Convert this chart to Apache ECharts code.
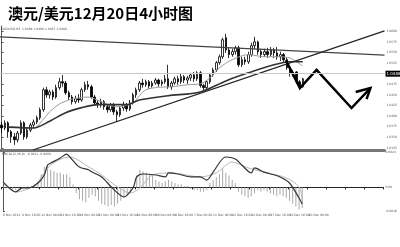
<!DOCTYPE html>
<html>
<head>
<meta charset="utf-8">
<script src="https://cdn.jsdelivr.net/npm/echarts@6/dist/echarts.min.js"></script>
<style>
  html, body { margin: 0; padding: 0; background: #fff; }
  #chart { width: 400px; height: 247px; }
</style>
</head>
<body>
<div id="chart"></div>
<script>
// AUD/USD 4-hour bars
const opens = [1.0379,1.0372,1.0384,1.0363,1.0351,1.0344,1.0360,1.0384,1.0351,1.0367,
  1.0379,1.0386,1.0396,1.0415,1.0462,1.0450,1.0457,1.0445,1.0467,1.0481,
  1.0478,1.0455,1.0445,1.0434,1.0441,1.0438,1.0462,1.0474,1.0469,1.0445,
  1.0431,1.0427,1.0434,1.0422,1.0415,1.0427,1.0410,1.0403,1.0419,1.0427,
  1.0417,1.0431,1.0450,1.0462,1.0478,1.0474,1.0481,1.0471,1.0478,1.0485,
  1.0476,1.0481,1.0488,1.0469,1.0478,1.0488,1.0481,1.0493,1.0485,1.0490,
  1.0497,1.0488,1.0502,1.0472,1.0467,1.0481,1.0497,1.0509,1.0526,1.0540,
  1.0585,1.0556,1.0545,1.0552,1.0561,1.0521,1.0533,1.0528,1.0545,1.0566,
  1.0575,1.0552,1.0545,1.0552,1.0545,1.0556,1.0549,1.0540,1.0545,1.0533,
  1.0514,1.0500,1.0504,1.0481,1.0469];
const closes = [1.0372,1.0384,1.0363,1.0351,1.0344,1.0360,1.0384,1.0351,1.0367,1.0379,
  1.0386,1.0396,1.0415,1.0462,1.0450,1.0457,1.0445,1.0467,1.0481,1.0478,
  1.0455,1.0445,1.0434,1.0441,1.0438,1.0462,1.0474,1.0469,1.0445,1.0431,
  1.0427,1.0434,1.0422,1.0415,1.0427,1.0410,1.0403,1.0419,1.0427,1.0417,
  1.0431,1.0450,1.0462,1.0478,1.0474,1.0481,1.0471,1.0478,1.0485,1.0476,
  1.0481,1.0488,1.0469,1.0478,1.0488,1.0481,1.0493,1.0485,1.0490,1.0497,
  1.0488,1.0502,1.0472,1.0467,1.0481,1.0497,1.0509,1.0526,1.0540,1.0580,
  1.0556,1.0545,1.0552,1.0561,1.0521,1.0533,1.0528,1.0545,1.0566,1.0575,
  1.0552,1.0545,1.0552,1.0545,1.0556,1.0549,1.0540,1.0545,1.0533,1.0514,
  1.0500,1.0504,1.0481,1.0469,1.0488];
const lows = [1.0360,1.0367,1.0349,1.0337,1.0332,1.0338,1.0356,1.0344,1.0346,1.0362,
  1.0372,1.0381,1.0391,1.0410,1.0443,1.0441,1.0438,1.0441,1.0462,1.0469,
  1.0450,1.0438,1.0427,1.0429,1.0431,1.0434,1.0457,1.0462,1.0441,1.0424,
  1.0419,1.0420,1.0415,1.0408,1.0410,1.0403,1.0386,1.0398,1.0412,1.0410,
  1.0412,1.0427,1.0443,1.0457,1.0467,1.0469,1.0464,1.0467,1.0474,1.0469,
  1.0471,1.0476,1.0464,1.0462,1.0474,1.0474,1.0476,1.0478,1.0476,1.0483,
  1.0481,1.0483,1.0467,1.0460,1.0462,1.0476,1.0493,1.0504,1.0521,1.0535,
  1.0549,1.0537,1.0540,1.0545,1.0516,1.0516,1.0521,1.0523,1.0540,1.0559,
  1.0545,1.0537,1.0540,1.0537,1.0540,1.0537,1.0533,1.0530,1.0526,1.0509,
  1.0493,1.0493,1.0476,1.0462,1.0467];
const highs = [1.0386,1.0390,1.0388,1.0367,1.0360,1.0365,1.0390,1.0388,1.0372,1.0384,
  1.0392,1.0401,1.0420,1.0467,1.0469,1.0462,1.0462,1.0474,1.0490,1.0497,
  1.0483,1.0460,1.0450,1.0448,1.0452,1.0467,1.0481,1.0483,1.0474,1.0450,
  1.0438,1.0441,1.0438,1.0427,1.0431,1.0431,1.0415,1.0424,1.0434,1.0431,
  1.0438,1.0455,1.0467,1.0483,1.0488,1.0486,1.0485,1.0483,1.0490,1.0488,
  1.0486,1.0497,1.0521,1.0483,1.0493,1.0495,1.0500,1.0497,1.0495,1.0502,
  1.0504,1.0506,1.0506,1.0476,1.0485,1.0502,1.0514,1.0530,1.0545,1.0585,
  1.0594,1.0561,1.0559,1.0566,1.0566,1.0540,1.0540,1.0552,1.0573,1.0587,
  1.0578,1.0559,1.0559,1.0561,1.0563,1.0561,1.0563,1.0552,1.0549,1.0537,
  1.0519,1.0509,1.0506,1.0485,1.0490];

// Moving averages, [bar, price]
const maFast = [[2,1.0374],[10,1.0372],[13,1.0392],[15,1.0410],[18,1.0428],[21,1.0438],[24,1.0443],
  [27,1.0445],[31,1.0434],[36,1.0422],[41,1.0431],[43,1.0448],[45,1.0462],[49,1.0468],[53,1.0469],
  [58,1.0474],[62,1.0476],[65,1.0490],[68,1.0514],[72,1.0533],[77,1.0545],[82,1.0540],[87,1.0540],
  [90,1.0537],[92,1.0528],[94,1.0518]];
const maSlow = [[2,1.0374],[10,1.0372],[15,1.0388],[20,1.0408],[25,1.0420],[30,1.0427],[39,1.0427],
  [43,1.0438],[52,1.0448],[62,1.0457],[70,1.0483],[77,1.0502],[85,1.0521],[90,1.0528],[94,1.0528]];

// Trend lines and the projected path, [bar, price]
const resistanceLine = [[-0.5,1.0587],[119.5,1.0544]];
const supportLine = [[9.76,1.0320],[119.5,1.0601]];
const projection = [[88.7,1.0532],[93.1,1.0466],[98.3,1.0509],[109.2,1.0419],[115.1,1.0466]];
const arrowHead = [[110.5,1.0457],[115.1,1.0466],[113.9,1.0440]];

// MACD(12,26,9)
const macdHist = [0.0001,0.00005,-0.0001,-0.00015,-0.0002,-0.0001,-0.00005,0.00005,0.0001,0.00012,
  0.0002,0.0004,0.0009,0.0014,0.0015,0.0012,0.0011,0.0010,0.0010,0.0009,0.0009,0.0007,0.0002,
  -0.0004,-0.0008,-0.0009,-0.0010,-0.0007,-0.0005,-0.0006,-0.0009,-0.0011,-0.0012,-0.0013,-0.0012,
  -0.0013,-0.0011,-0.0009,-0.0007,-0.0005,-0.0003,0.0001,
  0.0008,0.0012,0.0011,0.0010,0.0009,0.0008,0.0005,
  0.0004,0.0003,0.0004,0.0005,0.0004,0.0003,0.0002,0.0002,0.0001,0.0001,
  -0.0001,-0.0002,-0.0002,-0.0003,-0.0003,-0.0002,
  0.0003,0.0005,0.0007,0.0009,0.0013,0.0010,0.0008,0.0005,0.0003,
  -0.0003,-0.0005,-0.0006,-0.0007,-0.0006,-0.0004,
  -0.0002,-0.0003,-0.0002,-0.0003,-0.0004,
  -0.0005,-0.0006,-0.0005,-0.0006,-0.0007,
  -0.0009,-0.0011,-0.0013,-0.0015,-0.0014];
const macdMain = [[0,0.00037],[2,-0.00004],[4,-0.00031],[6,-0.00004],[8,-0.00004],[11,0.00030],[13,0.00084],
  [14,0.00152],[15,0.00165],[18,0.00199],[20,0.00226],[21,0.00206],[24,0.00138],[27,0.00118],[28,0.00104],
  [31,0.00071],[34,0.00003],[36,-0.00038],[38,-0.00065],[39,-0.00052],[41,0.00003],[42,0.00071],[44,0.00091],
  [48,0.00084],[51,0.00071],[52,0.00098],[55,0.00091],[59,0.00071],[62,0.00071],[64,0.00050],[66,0.00104],
  [70,0.00206],[73,0.00193],[75,0.00152],[78,0.00098],[79,0.00132],[82,0.00104],[87,0.00071],[90,0.00030],
  [93,-0.00072],[94,-0.00113]];
const macdSignal = [[0,0.00030],[4,-0.00031],[10,0.00016],[15,0.00152],[21,0.00206],[27,0.00138],[31,0.00084],
  [36,0.00003],[40,-0.00038],[43,-0.00004],[47,0.00084],[53,0.00098],[62,0.00071],[67,0.00098],[72,0.00172],
  [77,0.00132],[82,0.00104],[89,0.00064],[93,0.00003],[94,-0.00085]];

// Axis ticks
const priceTicks = [1.0325,1.0350,1.0375,1.0400,1.0425,1.0450,1.0475,1.0500,1.0525,1.0550,1.0575,1.0600];
const macdTicks = [-0.0016,0,0.0024];
const timeLabels = ['6 Nov 2012','8 Nov 16:00','12 Nov 08:00','14 Nov 16:00','19 Nov 00:00','21 Nov 08:00',
  '23 Nov 16:00','28 Nov 00:00','30 Nov 08:00','4 Dec 16:00','7 Dec 00:00','11 Dec 08:00','12 Dec 16:00',
  '14 Dec 08:00','17 Dec 16:00','18 Dec 16:00','20 Dec 00:00'];

const SLOTS = 120;          // bar slots on the time axis, incl. empty space on the right
const LABEL_EVERY = 6;
const slots = Array.from({length: SLOTS}, (_, i) => String(i));
const candles = opens.map((o, i) => [o, closes[i], lows[i], highs[i]]);
const last = opens.length - 1;
const lastClose = closes[last];
const f4 = v => v.toFixed(4);

const tiny = {fontSize: 4, color: '#444', fontFamily: 'DejaVu Sans'};
const micro = {fontSize: 3, color: '#555', fontFamily: 'DejaVu Sans'};

const chart = echarts.init(document.getElementById('chart'), null, {renderer: 'canvas'});
chart.setOption({
  animation: false,
  backgroundColor: '#fff',
  title: [
    {text: '澳元/美元12月20日4小时图', left: 3, top: 1,
     textStyle: {fontSize: 15, fontWeight: 'bold', color: '#000', fontFamily: 'Noto Sans CJK SC'}},
    {text: 'AUDUSD,H4  ' + [opens[last], highs[last], lows[last], closes[last]].map(f4).join(' '),
     left: 2, top: 28, padding: 0, textStyle: Object.assign({fontWeight: 'normal'}, micro)},
    {text: 'MACD(12,26,9)  ' + f4(macdMain[macdMain.length-1][1]) + ' ' + f4(macdSignal[macdSignal.length-1][1]),
     left: 2, top: 153, padding: 0, textStyle: Object.assign({fontWeight: 'normal'}, micro)}
  ],
  grid: [
    {left: 0, right: 14, top: 26, height: 124},
    {left: 0, right: 14, top: 152, height: 59}
  ],
  xAxis: [
    {type: 'category', gridIndex: 0, data: slots, boundaryGap: true,
     axisLine: {lineStyle: {color: '#777', width: 3}}, axisTick: {show: false}, axisLabel: {show: false}},
    {type: 'value', gridIndex: 0, min: -0.5, max: SLOTS - 0.5, show: false},
    {type: 'category', gridIndex: 1, data: slots, boundaryGap: true,
     axisLine: {lineStyle: {color: '#222', width: 1}},
     axisTick: {show: true, interval: LABEL_EVERY - 1, length: 2, lineStyle: {color: '#222'}},
     axisLabel: Object.assign({interval: LABEL_EVERY - 1, margin: 3, align: 'left', hideOverlap: false,
       formatter: (v, idx) => timeLabels[idx / LABEL_EVERY] || ''}, micro)},
    {type: 'value', gridIndex: 1, min: -0.5, max: SLOTS - 0.5, show: false}
  ],
  yAxis: [
    {type: 'value', gridIndex: 0, position: 'right', min: 1.0320, max: 1.06125, scale: true,
     splitLine: {show: false},
     axisLine: {show: true, lineStyle: {color: '#555', width: 1}},
     axisTick: {show: true, length: 2, customValues: priceTicks, lineStyle: {color: '#555'}},
     axisLabel: Object.assign({margin: 2, customValues: priceTicks, formatter: f4, showMinLabel: true, showMaxLabel: true}, micro)},
    {type: 'value', gridIndex: 1, position: 'right', min: -0.0016, max: 0.0024,
     splitLine: {show: false},
     axisLine: {show: true, lineStyle: {color: '#555', width: 1}},
     axisTick: {show: true, length: 2, customValues: macdTicks, lineStyle: {color: '#555'}},
     axisLabel: Object.assign({margin: 2, customValues: macdTicks,
       formatter: v => (Math.abs(v) < 1e-9 ? '0.00' : f4(v))}, micro)}
  ],
  series: [
    {type: 'candlestick', xAxisIndex: 0, yAxisIndex: 0, data: candles, barWidth: 2,
     itemStyle: {color: '#fff', color0: '#000', borderColor: '#000', borderColor0: '#000', borderWidth: 0.8},
     markLine: {silent: true, symbol: 'none', animation: false,
       lineStyle: {color: '#c8c8c8', width: 1, type: 'solid'},
       label: {show: true, position: 'end', distance: 1, formatter: f4(lastClose),
         backgroundColor: '#000', color: '#fff', fontSize: 4, padding: [1, 1], fontFamily: 'DejaVu Sans'},
       data: [{yAxis: lastClose}]}},
    {type: 'line', xAxisIndex: 1, yAxisIndex: 0, data: maFast, showSymbol: false, smooth: 0.3,
     lineStyle: {color: '#9a9a9a', width: 1}},
    {type: 'line', xAxisIndex: 1, yAxisIndex: 0, data: maSlow, showSymbol: false, smooth: 0.3,
     lineStyle: {color: '#333', width: 1.6}},
    {type: 'line', xAxisIndex: 1, yAxisIndex: 0, data: resistanceLine, showSymbol: false,
     lineStyle: {color: '#444', width: 1.3}},
    {type: 'line', xAxisIndex: 1, yAxisIndex: 0, data: supportLine, showSymbol: false,
     lineStyle: {color: '#222', width: 1.3}},
    {type: 'line', xAxisIndex: 1, yAxisIndex: 0, data: projection, showSymbol: false,
     lineStyle: {color: '#000', width: 2.5, join: 'miter'}},
    {type: 'line', xAxisIndex: 1, yAxisIndex: 0, data: arrowHead, showSymbol: false,
     lineStyle: {color: '#000', width: 2.5, join: 'miter'}},
    {type: 'bar', xAxisIndex: 2, yAxisIndex: 1, data: macdHist, barWidth: 1,
     itemStyle: {color: '#a8a8a8'}},
    {type: 'line', xAxisIndex: 3, yAxisIndex: 1, data: macdSignal, showSymbol: false, smooth: 0.3,
     lineStyle: {color: '#b8b8b8', width: 1}},
    {type: 'line', xAxisIndex: 3, yAxisIndex: 1, data: macdMain, showSymbol: false, smooth: 0.3,
     lineStyle: {color: '#333', width: 1.2}}
  ]
});
</script>
</body>
</html>
